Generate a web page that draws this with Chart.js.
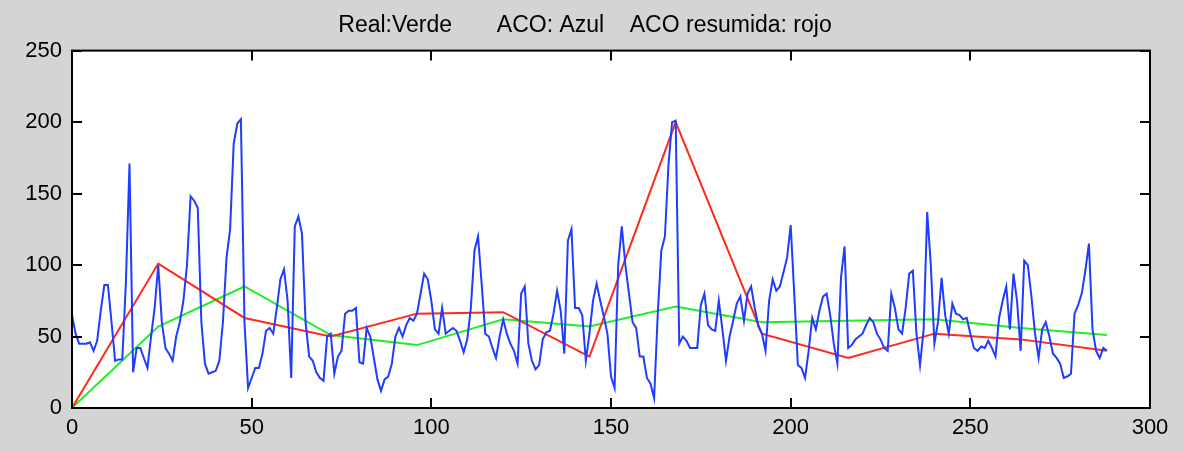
<!DOCTYPE html>
<html>
<head>
<meta charset="utf-8">
<script src="https://cdn.jsdelivr.net/npm/chart.js@4"></script>
<style>
  body { margin: 0; background: #d4d4d4; }
</style>
</head>
<body>
<canvas id="chart" width="1184" height="451"></canvas>
<script>
// ACO (blue), one value per step 0..288
const aco = [
  65, 52, 45, 45, 45, 46, 40, 47, 68, 86, 86, 60, 33, 34, 34, 88, 171, 25, 42, 42, 35, 28, 50, 70,
  100, 60, 42, 38, 33, 50, 60, 75, 100, 148, 145, 140, 60, 31, 24, 25, 26, 33, 60, 105, 125, 185, 199, 202,
  60, 14, 21, 28, 28, 38, 54, 56, 52, 70, 90, 97, 75, 21, 127, 134, 122, 60, 36, 33, 25, 21, 19, 50,
  52, 24, 36, 40, 66, 68, 68, 70, 32, 31, 56, 50, 35, 20, 12, 20, 22, 31, 50, 56, 50, 58, 63, 61,
  66, 80, 94, 90, 75, 55, 52, 70, 52, 54, 56, 54, 47, 39, 48, 70, 110, 120, 87, 52, 50, 42, 35, 50,
  62, 52, 45, 40, 31, 80, 85, 45, 33, 27, 30, 48, 53, 54, 66, 82, 68, 38, 117, 125, 70, 70, 65, 33,
  52, 75, 87, 75, 64, 52, 22, 14, 100, 127, 100, 80, 60, 56, 36, 36, 21, 17, 7, 65, 110, 120, 170, 200,
  201, 45, 50, 47, 42, 42, 42, 72, 80, 58, 55, 54, 75, 55, 33, 50, 61, 73, 78, 61, 80, 85, 70, 57,
  52, 40, 75, 90, 82, 85, 95, 105, 128, 80, 30, 28, 21, 40, 63, 55, 68, 78, 80, 65, 45, 31, 91, 113,
  42, 44, 48, 50, 52, 58, 63, 60, 52, 48, 42, 40, 80, 70, 55, 52, 70, 94, 96, 52, 30, 55, 137, 100,
  45, 60, 91, 65, 52, 73, 66, 65, 62, 63, 52, 42, 40, 43, 42, 47, 42, 36, 63, 75, 85, 55, 94, 75,
  40, 103, 100, 78, 52, 35, 55, 60, 50, 38, 35, 31, 21, 22, 24, 66, 72, 80, 96, 115, 55, 40, 35, 42,
  40
];

// ACO resumida (red) and Real (green), knots every 24 steps
const knotX = [0, 24, 48, 72, 96, 120, 144, 168, 192, 216, 240, 264, 288];
const resumida = [0, 101, 63, 50, 66, 67, 36, 200, 52, 35, 52, 48, 40];
const real = [0, 57, 85, 51, 44, 62, 57, 71, 60, 61, 62, 56, 51];

const xTicks = [0, 50, 100, 150, 200, 250, 300];
const yTicks = [0, 50, 100, 150, 200, 250];
const titleText = 'Real:Verde       ACO: Azul    ACO resumida: rojo';

const FONT = { family: "'Liberation Sans', Arial, sans-serif", size: 22 };

const framePlugin = {
  id: 'frame',
  beforeDraw(chart) {
    const { ctx, chartArea: a } = chart;
    ctx.save();
    ctx.fillStyle = '#d4d4d4';
    ctx.fillRect(0, 0, chart.width, chart.height);
    ctx.fillStyle = '#ffffff';
    ctx.fillRect(a.left, a.top, a.right - a.left, a.bottom - a.top);
    ctx.restore();
  },
  afterDatasetsDraw(chart) {
    const { ctx, chartArea: a, scales } = chart;
    ctx.save();
    ctx.strokeStyle = '#000';
    ctx.lineWidth = 2;
    ctx.strokeRect(a.left, a.top, a.right - a.left, a.bottom - a.top);
    ctx.beginPath();
    xTicks.forEach(v => {
      const px = Math.round(scales.x.getPixelForValue(v));
      ctx.moveTo(px, a.bottom); ctx.lineTo(px, a.bottom - 10);
      ctx.moveTo(px, a.top); ctx.lineTo(px, a.top + 10);
    });
    yTicks.forEach(v => {
      const py = Math.round(scales.y.getPixelForValue(v));
      ctx.moveTo(a.left, py); ctx.lineTo(a.left + 10, py);
      ctx.moveTo(a.right, py); ctx.lineTo(a.right - 10, py);
    });
    ctx.stroke();
    ctx.restore();
  }
};

new Chart(document.getElementById('chart'), {
  type: 'line',
  data: {
    datasets: [
      { label: 'ACO', data: aco.map((v, i) => ({ x: i, y: v })), borderColor: '#1f3cff', borderWidth: 2 },
      { label: 'ACO resumida', data: knotX.map((x, i) => ({ x, y: resumida[i] })), borderColor: '#ff2a1a', borderWidth: 2 },
      { label: 'Real', data: knotX.map((x, i) => ({ x, y: real[i] })), borderColor: '#22ee22', borderWidth: 2 }
    ]
  },
  options: {
    responsive: false,
    animation: false,
    elements: { point: { radius: 0 }, line: { tension: 0 } },
    layout: { padding: { left: 20, right: 34, top: 0, bottom: 0 } },
    plugins: {
      legend: { display: false },
      tooltip: { enabled: false },
      title: {
        display: true,
        text: titleText,
        color: '#000',
        font: { family: FONT.family, size: 23, weight: 'normal' },
        padding: { top: 12, bottom: 11 }
      }
    },
    scales: {
      x: {
        type: 'linear', min: 0, max: 300,
        afterBuildTicks: s => { s.ticks = xTicks.map(v => ({ value: v })); },
        afterFit: s => { s.height = 43; },
        grid: { display: false, drawTicks: false },
        border: { display: false },
        ticks: { color: '#000', font: FONT, padding: 7, maxRotation: 0 }
      },
      y: {
        min: 0, max: 250,
        afterBuildTicks: s => { s.ticks = yTicks.map(v => ({ value: v })); },
        afterFit: s => { s.width = 52; },
        grid: { display: false, drawTicks: false },
        border: { display: false },
        ticks: { color: '#000', font: FONT, padding: 10 }
      }
    }
  },
  plugins: [framePlugin]
});
</script>
</body>
</html>
